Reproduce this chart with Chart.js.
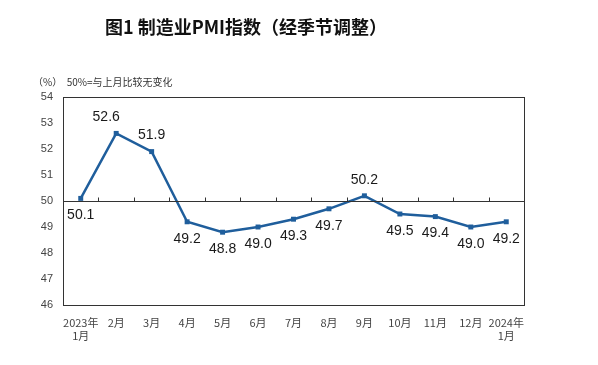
<!DOCTYPE html>
<html><head><meta charset="utf-8">
<script src="https://cdn.jsdelivr.net/npm/chart.js@4/dist/chart.umd.min.js"></script>
<style>
html,body{margin:0;padding:0;background:#fff;}
#wrap{position:relative;width:598px;height:365px;}
#title{position:absolute;left:0;top:13px;width:492px;text-align:center;font:bold 18px "Noto Sans CJK SC",sans-serif;color:#111;}
#sub{position:absolute;left:33px;top:74px;font:10px "Noto Sans CJK SC",sans-serif;color:#333;white-space:pre;}
canvas{position:absolute;left:0;top:0;}
</style></head><body>
<div id="wrap">
<canvas id="c" width="598" height="365"></canvas>
<div id="title">图1 制造业PMI指数（经季节调整）</div>
<div id="sub">（%）  50%=与上月比较无变化</div>
</div>
<script>
const categories = [["2023年","1月"],"2月","3月","4月","5月","6月","7月","8月","9月","10月","11月","12月",["2024年","1月"]];
const pmiValues = [50.1,52.6,51.9,49.2,48.8,49.0,49.3,49.7,50.2,49.5,49.4,49.0,49.2];
const yTicks = [46,47,48,49,50,51,52,53,54];
const baseline = 50;

const labelSide = ['below','above','above','below','below','below','below','below','above','below','below','below','below'];
const labelShift = [0,-10,0,0,0,0,0,0,0,0,0,0,0];

const framePlugin = {
  id:'frame',
  afterDraw(chart){
    const {ctx, chartArea:a, scales:{x,y}} = chart;
    ctx.save();
    ctx.strokeStyle='#333'; ctx.lineWidth=1;
    ctx.strokeRect(Math.round(a.left)+0.5, Math.round(a.top)+0.5, Math.round(a.right-a.left), Math.round(a.bottom-a.top));
    const yb = Math.round(y.getPixelForValue(baseline))+0.5;
    ctx.beginPath();
    ctx.moveTo(a.left, yb); ctx.lineTo(a.right, yb);
    const n = categories.length;
    for(let i=1;i<n;i++){
      const xp = Math.round((x.getPixelForValue(i-1)+x.getPixelForValue(i))/2)+0.5;
      ctx.moveTo(xp, yb); ctx.lineTo(xp, yb-4);
    }
    ctx.stroke();
    const meta = chart.getDatasetMeta(0);
    ctx.fillStyle='#1a1a1a';
    ctx.font='14px "Liberation Sans", Arial, sans-serif';
    ctx.textAlign='center'; ctx.textBaseline='middle';
    meta.data.forEach((pt,i)=>{
      const dy = labelSide[i]==='above' ? -16 : 17;
      ctx.fillText(pmiValues[i].toFixed(1), pt.x+labelShift[i], pt.y+dy);
    });
    ctx.restore();
  }
};

new Chart(document.getElementById('c'),{
  type:'line',
  data:{labels:categories,datasets:[{
    data:pmiValues,
    borderColor:'#1f5e9c',
    backgroundColor:'#1f5e9c',
    borderWidth:2.5,
    pointStyle:'rect',
    pointRadius:3.5,
    pointBorderWidth:0,
    tension:0
  }]},
  options:{
    responsive:false,
    animation:false,
    devicePixelRatio:1,
    layout:{padding:{left:0,right:74,top:97,bottom:0}},
    plugins:{legend:{display:false},tooltip:{enabled:false},title:{display:false}},
    scales:{
      x:{
        offset:true,
        grid:{display:false,drawTicks:false},
        border:{display:false},
        ticks:{padding:11,color:'#444',font:{size:11,family:'"Noto Sans CJK SC", sans-serif'},maxRotation:0,autoSkip:false},
        afterFit(s){s.height=60;}
      },
      y:{
        min:46,max:54,
        afterBuildTicks(s){s.ticks=yTicks.map(v=>({value:v}));},
        grid:{display:false,drawTicks:false},
        border:{display:false},
        ticks:{padding:10,color:'#444',font:{size:11,family:'"Liberation Sans", Arial, sans-serif'}},
        afterFit(s){s.width=63;}
      }
    }
  },
  plugins:[framePlugin]
});
</script>
</body></html>
